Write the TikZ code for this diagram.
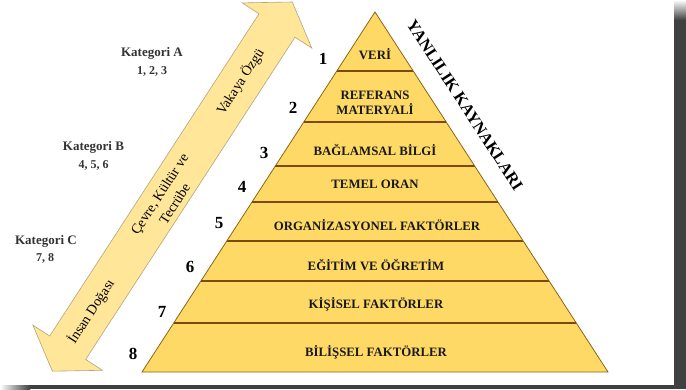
\documentclass[tikz,border=0pt]{standalone}
\usepackage{fontspec}
\setmainfont{Liberation Serif}
\definecolor{pyrfill}{HTML}{FFD966}
\definecolor{pyredge}{HTML}{8C6414}
\definecolor{divline}{HTML}{7A4A0E}
\definecolor{arrfill}{HTML}{FFE699}
\definecolor{arredge}{HTML}{B5A47C}
\definecolor{framegray}{HTML}{404040}
\begin{document}
\begin{tikzpicture}[x=1pt, y=-1pt,
  layer/.style={font=\fontsize{12.8}{15}\selectfont\bfseries, text=black!90, align=center, inner sep=0pt},
  rank/.style={font=\fontsize{17}{19}\selectfont\bfseries, inner sep=0pt},
  kat/.style={font=\fontsize{13}{15}\selectfont\bfseries, text=black!80, inner sep=0pt},
  katnum/.style={font=\fontsize{12}{14}\selectfont\bfseries, text=black!80, inner sep=0pt},
  along/.style={font=\fontsize{14}{18}\selectfont, rotate=57, align=center, inner sep=0pt}]
\useasboundingbox (0,0) rectangle (686,389);

% frame shadow
\fill[framegray] (674,20) rectangle (686,389);
\shade[top color=white, bottom color=framegray] (674,0) rectangle (686,20);
\fill[framegray] (30,385) rectangle (686,389);
\shade[left color=white, right color=framegray] (0,385) rectangle (30,389);

% double arrow
\draw[fill=arrfill, draw=arredge, line width=0.6pt, line join=miter]
  (292.3,2.0) -- (311.8,48.1) -- (295.0,37.2) -- (85.7,359.4) -- (102.5,370.3)
  -- (52.4,371.2) -- (32.9,325.1) -- (49.7,336.0) -- (259.0,13.8) -- (242.2,2.9) -- cycle;
\node[along] (ozgu) at (240.5,81.7) {Vakaya Özgü};
\node[along] (cevre) at (167,199) {Çevre, Kültür ve\\Tecrübe};
\node[along] (doga) at (91.2,311.6) {İnsan Doğası};

% pyramid
\draw[fill=pyrfill, draw=pyredge, line width=0.8pt] (142,372) -- (375,12) -- (608,372) -- cycle;
\begin{scope}
  \clip (142,372) -- (375,12) -- (608,372) -- cycle;
  \foreach \yy in {71,122,166,202,241,281,323}
    \draw[divline, line width=2.6pt] ({375-0.6472*(\yy-12)},\yy) -- ({375+0.6472*(\yy-12)},\yy);
\end{scope}

\node[layer] (veri) at (375,54) {VERİ};
\node[layer] (referans) at (375,102.5) {REFERANS\\MATERYALİ};
\node[layer] (baglam) at (375,150) {BAĞLAMSAL BİLGİ};
\node[layer] (temel) at (375,184) {TEMEL ORAN};
\node[layer] (organ) at (377,225) {ORGANİZASYONEL FAKTÖRLER};
\node[layer] (egitim) at (376,265) {EĞİTİM VE ÖĞRETİM};
\node[layer] (kisisel) at (376,304) {KİŞİSEL FAKTÖRLER};
\node[layer] (bilissel) at (376,352) {BİLİŞSEL FAKTÖRLER};

\node[font=\fontsize{16.5}{18}\selectfont\bfseries, rotate=-57, inner sep=0pt] (title) at (465,105) {YANLILIK KAYNAKLARI};

% level numbers
\foreach \num/\xx/\yy in {1/323/59, 2/293/108, 3/264/153, 4/242/187, 5/219/223, 6/190/267, 7/162/312, 8/133/354}
  \node[rank] (n\num) at (\xx,\yy) {\num};

% categories
\node[kat] (katA) at (152,53) {Kategori A};
\node[katnum] (numA) at (152,71) {1, 2, 3};
\node[kat] (katB) at (93.5,147) {Kategori B};
\node[katnum] (numB) at (93.5,165) {4, 5, 6};
\node[kat] (katC) at (46,241) {Kategori C};
\node[katnum] (numC) at (45,258) {7, 8};
\end{tikzpicture}
\end{document}
